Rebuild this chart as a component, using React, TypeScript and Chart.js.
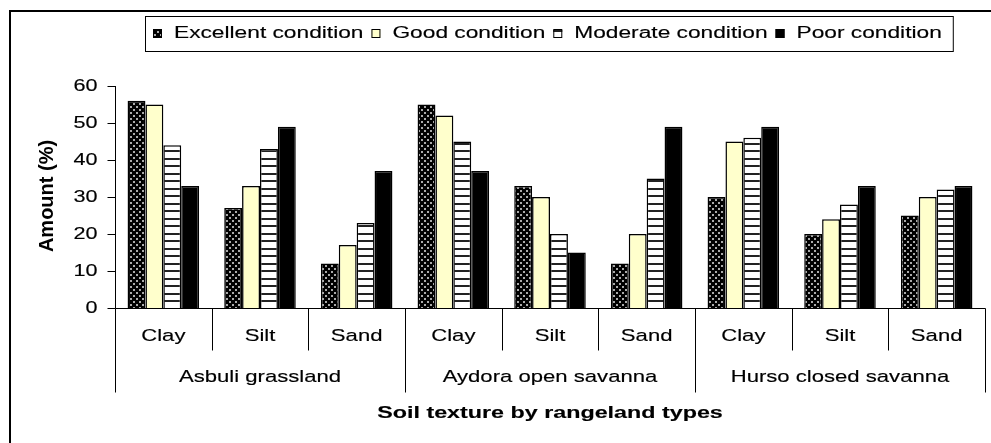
import React, { useEffect, useRef } from 'react';
import { Chart, registerables } from 'chart.js';

Chart.register(...registerables);

const textures = ['Clay', 'Silt', 'Sand'];
const rangelands = ['Asbuli grassland', 'Aydora open savanna', 'Hurso closed savanna'];
const seriesNames = ['Excellent condition', 'Good condition', 'Moderate condition', 'Poor condition'];
const excellent = [56, 27, 12, 55, 33, 12, 30, 20, 25];
const good = [55, 33, 17, 52, 30, 20, 45, 24, 30];
const moderate = [44, 43, 23, 45, 20, 35, 46, 28, 32];
const poor = [33, 49, 37, 37, 15, 49, 49, 33, 33];
const yMin = 0;
const yMax = 60;
const yStep = 10;
const yTitle = 'Amount (%)';
const xTitle = 'Soil texture by rangeland types';

const FONT = '"Liberation Sans", Arial, sans-serif';

function makeDots(): HTMLCanvasElement {
  const c = document.createElement('canvas');
  c.width = 6;
  c.height = 6;
  const g = c.getContext('2d')!;
  g.fillStyle = '#000';
  g.fillRect(0, 0, 6, 6);
  g.fillStyle = '#aaaaaa';
  g.fillRect(1, 1, 2, 2);
  g.fillRect(4, 4, 2, 2);
  return c;
}

function makeStripes(): HTMLCanvasElement {
  const c = document.createElement('canvas');
  c.width = 4;
  c.height = 15;
  const g = c.getContext('2d')!;
  g.fillStyle = '#fff';
  g.fillRect(0, 0, 4, 15);
  g.fillStyle = '#222';
  g.fillRect(0, 0, 4, 2);
  g.fillRect(0, 8, 4, 2);
  return c;
}

function drawText(
  ctx: CanvasRenderingContext2D,
  text: string,
  x: number,
  y: number,
  font: string,
  sx: number,
  align: CanvasTextAlign
) {
  ctx.save();
  ctx.font = font;
  ctx.translate(x, y);
  ctx.scale(sx, 1);
  ctx.textAlign = align;
  ctx.textBaseline = 'middle';
  ctx.fillStyle = '#000';
  ctx.strokeStyle = '#000';
  ctx.lineWidth = 0.15;
  ctx.fillText(text, 0, 0);
  ctx.strokeText(text, 0, 0);
  ctx.restore();
}

function textW(ctx: CanvasRenderingContext2D, text: string, font: string, sx: number) {
  ctx.save();
  ctx.font = font;
  const w = ctx.measureText(text).width * sx;
  ctx.restore();
  return w;
}

export default function App() {
  const ref = useRef<HTMLCanvasElement | null>(null);

  useEffect(() => {
    const canvas = ref.current;
    if (!canvas) return;
    const ctx0 = canvas.getContext('2d')!;
    const dots = ctx0.createPattern(makeDots(), 'repeat')!;
    const stripes = ctx0.createPattern(makeStripes(), 'repeat')!;
    const fills: any[] = [dots, '#FFFFCC', stripes, '#000000'];

    const labels: string[] = [];
    rangelands.forEach(() => textures.forEach((t) => labels.push(t)));

    const decor = {
      id: 'decor',
      afterDraw(chart: any) {
        const ctx: CanvasRenderingContext2D = chart.ctx;
        const { left, right, top, bottom } = chart.chartArea;
        const xs = chart.scales.x;
        const ys = chart.scales.y;
        const L = Math.round(left) + 0.5;
        const B = Math.round(bottom) + 0.5;
        ctx.save();
        // outer frame (left and top edges)
        ctx.strokeStyle = '#000';
        ctx.lineWidth = 2;
        ctx.beginPath();
        ctx.moveTo(10, chart.height + 5);
        ctx.lineTo(10, 11);
        ctx.lineTo(chart.width + 5, 11);
        ctx.stroke();

        // axes
        ctx.lineWidth = 1;
        ctx.strokeStyle = '#000';
        ctx.beginPath();
        ctx.moveTo(L, Math.round(top));
        ctx.lineTo(L, B);
        ctx.lineTo(Math.round(right) + 0.5, B);
        ctx.stroke();

        // y ticks and labels
        const tickVals: number[] =
          ys.ticks && ys.ticks.length ? ys.ticks.map((t: any) => t.value) : [];
        if (!tickVals.length) for (let v = yMin; v <= yMax; v += yStep) tickVals.push(v);
        const tickFont = `16px ${FONT}`;
        tickVals.forEach((v) => {
          const py = Math.round(ys.getPixelForValue(v)) + 0.5;
          ctx.beginPath();
          ctx.moveTo(L - 8, py);
          ctx.lineTo(L, py);
          ctx.stroke();
          drawText(ctx, String(v), L - 18, py, tickFont, 1.35, 'right');
        });

        // category boundaries
        const n = labels.length;
        const step = xs.getPixelForValue(1) - xs.getPixelForValue(0);
        const bound = (i: number) => xs.getPixelForValue(0) - step / 2 + i * step;
        const catFont = `17px ${FONT}`;
        for (let i = 0; i <= n; i++) {
          const bx = Math.round(bound(i)) + 0.5;
          const isGroup = i % textures.length === 0;
          ctx.beginPath();
          ctx.moveTo(bx, B);
          ctx.lineTo(bx, B + (isGroup ? 84 : 42));
          ctx.stroke();
        }
        labels.forEach((lab, i) => {
          drawText(ctx, lab, xs.getPixelForValue(i), bottom + 28, catFont, 1.3, 'center');
        });
        rangelands.forEach((g, gi) => {
          const cx = (bound(gi * textures.length) + bound((gi + 1) * textures.length)) / 2;
          drawText(ctx, g, cx, bottom + 69, catFont, 1.3, 'center');
        });

        // axis titles
        drawText(ctx, xTitle, (left + right) / 2, bottom + 105, `bold 17px ${FONT}`, 1.37, 'center');
        ctx.save();
        ctx.translate(47, (top + bottom) / 2 - 1);
        ctx.rotate(-Math.PI / 2);
        ctx.font = `bold 20px ${FONT}`;
        ctx.textAlign = 'center';
        ctx.textBaseline = 'middle';
        ctx.fillStyle = '#000';
        ctx.fillText(yTitle, 0, 0);
        ctx.restore();

        // legend
        const legFont = `16px ${FONT}`;
        const legSx = 1.42;
        const ly = 33.5;
        let lx = 153;
        seriesNames.forEach((name, i) => {
          ctx.fillStyle = fills[i];
          ctx.fillRect(lx, ly - 4.5, 9, 9);
          ctx.strokeStyle = '#000';
          ctx.lineWidth = 1;
          ctx.strokeRect(lx + 0.5, ly - 4, 8, 8);
          const tx = lx + 21;
          drawText(ctx, name, tx, ly, legFont, legSx, 'left');
          lx = tx + textW(ctx, name, legFont, legSx) + 8;
        });
        const boxRight = lx - 8 + 11;
        ctx.strokeStyle = '#000';
        ctx.lineWidth = 1;
        ctx.strokeRect(145.5, 16.5, boxRight - 145, 35);
        ctx.restore();
      },
    };

    const chart = new Chart(canvas, {
      type: 'bar',
      data: {
        labels,
        datasets: [excellent, good, moderate, poor].map((d, i) => ({
          label: seriesNames[i],
          data: d,
          backgroundColor: fills[i],
          borderColor: '#000',
          borderWidth: 1.5,
          categoryPercentage: 0.74,
          barPercentage: 1,
        })),
      },
      options: {
        responsive: false,
        animation: false,
        devicePixelRatio: 1,
        layout: { padding: { left: 115, right: 6, top: 86, bottom: 135 } },
        plugins: { legend: { display: false }, tooltip: { enabled: false } },
        scales: {
          x: { display: false, offset: true },
          y: { display: false, min: yMin, max: yMax, ticks: { stepSize: yStep } },
        },
      },
      plugins: [decor],
    });
    return () => chart.destroy();
  }, []);

  return (
    <div style={{ position: 'absolute', left: 0, top: 0, width: 991, height: 443, background: '#fff' }}>
      <canvas ref={ref} width={991} height={443} style={{ width: 991, height: 443, display: 'block' }} />
    </div>
  );
}
